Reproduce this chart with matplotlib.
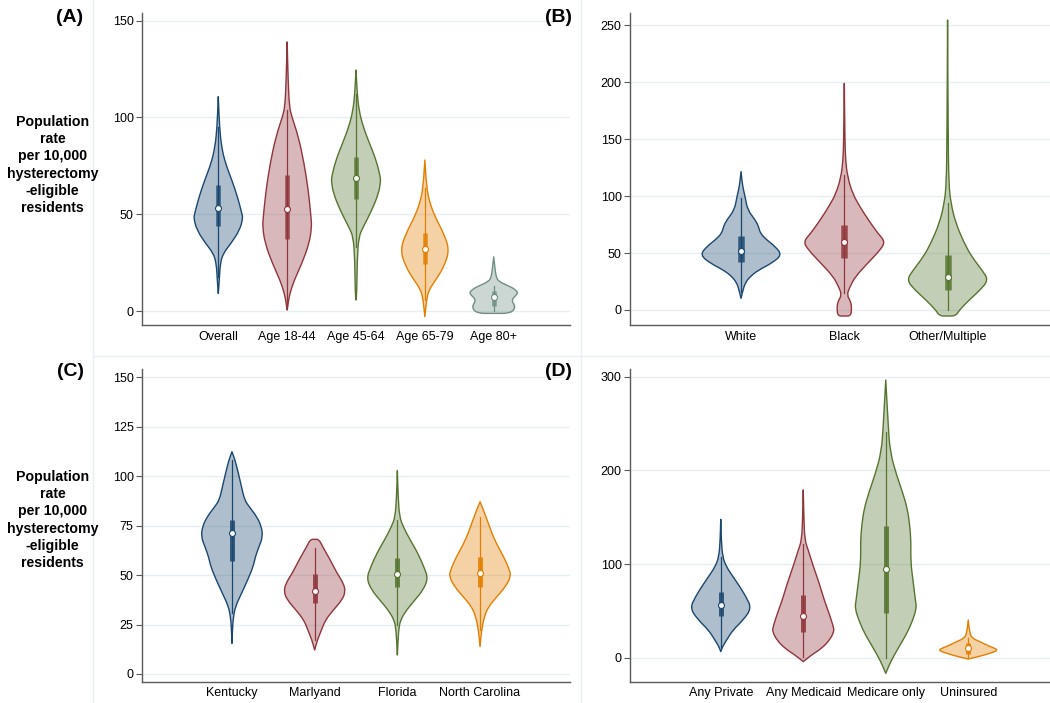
import matplotlib
matplotlib.use("Agg")
import matplotlib.pyplot as plt
from matplotlib.lines import Line2D
from matplotlib.path import Path
from matplotlib.patches import PathPatch
import numpy as np

plt.rcParams['font.family'] = ['Liberation Sans', 'DejaVu Sans']

# ---- (A) age groups ----
a_labels = ["Overall", "Age 18-44", "Age 45-64", "Age 65-79", "Age 80+"]
a_median = [53.0, 52.7, 68.9, 32.0, 7.4]
a_q1 = [44.1, 37.2, 57.7, 24.3, 2.6]
a_q3 = [65.1, 70.2, 79.7, 40.1, 10.5]
a_wlo = [17.7, 2.2, 33, 5.7, 0]
a_whi = [95, 103.8, 112, 63.4, 13]
# violin outline: (rate, relative half width)
a_shapes = [
    [(9.1, 0), (16, 0.04), (24.6, 0.08), (29.8, 0.2), (35, 0.52), (41.8, 0.87), (47.9, 1.0),
     (50.4, 0.96), (59.1, 0.78), (67.7, 0.55), (76.3, 0.29), (84.9, 0.13), (95.2, 0.05), (110.7, 0)],
    [(0.5, 0), (4, 0.04), (9.1, 0.11), (16, 0.29), (24.6, 0.6), (35, 0.9), (43.6, 1.0), (48.7, 0.97),
     (62.5, 0.86), (76.3, 0.69), (90, 0.46), (100.4, 0.19), (105.5, 0.09), (119.3, 0.04), (139, 0)],
    [(5.7, 0), (9.1, 0.03), (26.3, 0.05), (38.4, 0.11), (43.6, 0.3), (52.2, 0.65), (60.8, 0.92),
     (66.8, 1.0), (69.4, 0.99), (78, 0.82), (86.6, 0.55), (95.2, 0.29), (103.8, 0.12), (112.4, 0.05),
     (124.5, 0)],
    [(-2.9, 0), (5.7, 0.07), (10.8, 0.16), (16, 0.44), (22.9, 0.78), (31.5, 1.0), (40.1, 0.77),
     (47, 0.48), (55.6, 0.2), (64.2, 0.07), (78, 0)],
    [(-1.2, 0), (-1.2, 0.7), (2.2, 0.9), (5.7, 0.7), (9.1, 1.0), (10.8, 0.9), (12.5, 0.7),
     (15.2, 0.2), (17.7, 0.1), (21.2, 0.06), (28, 0)],
]

# ---- (B) race ----
b_labels = ["White", "Black", "Other/Multiple"]
b_median = [52.1, 59.4, 29.3]
b_q1 = [42.4, 45.4, 17.6]
b_q3 = [65.0, 74.6, 48.3]
b_wlo = [16, 14.6, 0]
b_whi = [98, 118.5, 93.7]
b_shapes = [
    [(10.2, 0), (17.6, 0.05), (23.4, 0.1), (29.3, 0.22), (35.1, 0.43), (41, 0.75), (48.3, 1.0),
     (55.6, 0.84), (61.5, 0.63), (67.3, 0.47), (73.2, 0.43), (79, 0.35), (87.8, 0.16), (99.5, 0.1),
     (108.3, 0.04), (121.5, 0)],
    [(-5.3, 0), (-5.3, 0.16), (1.5, 0.18), (7.3, 0.16), (13.2, 0.06), (20.5, 0.14), (29.3, 0.27),
     (41, 0.57), (52.7, 0.88), (60, 1.0), (67.3, 0.82), (79, 0.59), (90.7, 0.38), (102.4, 0.2),
     (117, 0.08), (131.7, 0.03), (150, 0.015), (199, 0)],
    [(-5.3, 0), (-5.3, 0.2), (0, 0.29), (8.8, 0.53), (17.6, 0.8), (26.3, 1.0), (35.1, 0.84),
     (46.8, 0.59), (58.5, 0.41), (76.1, 0.2), (93.7, 0.08), (111.2, 0.03), (150, 0.015), (254.6, 0)],
]

# ---- (C) state ----
c_labels = ["Kentucky", "Marlyand", "Florida", "North Carolina"]
c_median = [71.5, 42.1, 50.4, 51.2]
c_q1 = [57.1, 35.7, 43.8, 43.8]
c_q3 = [77.9, 50.4, 58.5, 59.3]
c_wlo = [30.7, 17.2, 24.8, 22]
c_whi = [108, 63.5, 78, 79.5]
c_shapes = [
    [(15.5, 0), (23.9, 0.02), (29, 0.05), (34, 0.11), (40.8, 0.31), (47.5, 0.51), (54.3, 0.69),
     (59.3, 0.76), (64.4, 0.88), (69.4, 1.0), (74.5, 0.96), (79.5, 0.81), (84.6, 0.56), (88, 0.41),
     (94.7, 0.31), (101.4, 0.21), (108.2, 0.1), (112.4, 0)],
    [(12.1, 0), (17.2, 0.09), (22.2, 0.22), (27.3, 0.35), (32.4, 0.61), (37.4, 0.89), (41.6, 1.0),
     (45.8, 0.94), (50.9, 0.73), (57.6, 0.51), (64.4, 0.26), (68.1, 0.14), (68.1, 0)],
    [(9.6, 0), (22.2, 0.04), (27.3, 0.1), (32.4, 0.3), (37.4, 0.57), (42.5, 0.84), (48.4, 1.0),
     (54.3, 0.86), (61, 0.67), (67.7, 0.42), (74.5, 0.19), (79.5, 0.07), (90, 0.025), (102.8, 0)],
    [(13.8, 0), (22.2, 0.05), (29, 0.14), (34, 0.27), (39.1, 0.55), (44.2, 0.83), (49.2, 1.0),
     (52.6, 0.96), (59.3, 0.77), (67.7, 0.47), (76.2, 0.27), (82.9, 0.11), (87.1, 0)],
]

# ---- (D) insurance ----
d_labels = ["Any Private", "Any Medicaid", "Medicare only", "Uninsured"]
d_median = [56.2, 45.1, 94.9, 10.3]
d_q1 = [45.1, 28.1, 48.3, 3.9]
d_q3 = [70.0, 67.2, 141.1, 15.6]
d_wlo = [12, 1.4, 0, 0]
d_whi = [108, 122, 241, 21]
d_shapes = [
    [(6.8, 0), (12.1, 0.06), (19.2, 0.19), (29.9, 0.4), (40.5, 0.73), (53, 1.0), (65.4, 0.82),
     (76, 0.62), (86.7, 0.4), (97.4, 0.18), (108, 0.06), (125, 0.02), (147.9, 0)],
    [(-3.9, 0), (3.2, 0.27), (10.3, 0.6), (19.2, 0.86), (28.1, 1.0), (33.4, 0.98), (47.6, 0.84),
     (61.9, 0.68), (79.6, 0.52), (97.4, 0.33), (115.2, 0.16), (125.8, 0.05), (150, 0.02), (179.2, 0)],
    [(-16.4, 0), (-3.9, 0.16), (10.3, 0.4), (24.5, 0.66), (38.7, 0.86), (53, 1.0), (60.1, 0.97),
     (81.4, 0.89), (102.7, 0.81), (124, 0.82), (141.8, 0.78), (159.6, 0.7), (177.4, 0.54),
     (195.2, 0.35), (220, 0.14), (248.5, 0.08), (296.5, 0)],
    [(-1.1, 0), (1.4, 0.33), (5, 0.71), (8.5, 1.0), (12.1, 0.71), (17.4, 0.38), (21, 0.13),
     (26.3, 0.05), (40.5, 0)],
]

colors = ['#1a476f', '#90353b', '#55752f', '#e37e00', '#6e8e84']
grid_col = '#e6eff1'
axis_col = '#5a5a5a'

W, H = 1050, 703
fig = plt.figure(figsize=(W / 100, H / 100), dpi=100)


def box(l, t, r, b):
    # pixel box -> figure fraction rect
    return [l / W, 1 - b / H, (r - l) / W, (b - t) / H]


def rounded_outline(xs, ys):
    # closed outline through the read points, corners rounded with quadratic curves
    pts = np.column_stack([xs, ys])
    verts = [pts[0], (pts[0] + pts[1]) / 2]
    codes = [Path.MOVETO, Path.LINETO]
    for k in range(1, len(pts) - 1):
        verts += [pts[k], (pts[k] + pts[k + 1]) / 2]
        codes += [Path.CURVE3, Path.CURVE3]
    verts += [pts[-1], pts[0]]
    codes += [Path.LINETO, Path.CLOSEPOLY]
    return Path(verts, codes)


def draw_panel(rect, labels, med, q1, q3, wlo, whi, shapes, hw, xlim, ylim, yticks, box_px):
    ax = fig.add_axes(rect)
    for i, lab in enumerate(labels):
        pos = i + 1
        col = colors[i]
        ys = np.array([p[0] for p in shapes[i]])
        ws = np.array([p[1] for p in shapes[i]]) * hw
        xs = np.concatenate([pos - ws, (pos + ws)[::-1]])
        yy = np.concatenate([ys, ys[::-1]])
        ax.add_patch(PathPatch(rounded_outline(xs, yy),
                               facecolor=matplotlib.colors.to_rgba(col, 0.35),
                               edgecolor=col, lw=1.0, joinstyle='round', zorder=2))
        ax.plot([pos, pos], [wlo[i], whi[i]], color=col, lw=0.9, zorder=3)
        ax.plot([pos, pos], [q1[i], q3[i]], color=col, lw=box_px * 0.72,
                solid_capstyle='butt', alpha=0.85, zorder=4)
        ax.plot(pos, med[i], 'o', ms=4.3, mfc='white', mec=col, mew=0.8, zorder=5)
    ax.set_xlim(*xlim)
    ax.set_ylim(*ylim)
    ax.set_yticks(yticks)
    ax.set_xticks(range(1, len(labels) + 1))
    ax.set_xticklabels(labels)
    for s in ['top', 'right']:
        ax.spines[s].set_visible(False)
    for s in ['left', 'bottom']:
        ax.spines[s].set_color(axis_col)
        ax.spines[s].set_linewidth(1.0)
    ax.tick_params(axis='y', length=4, color=axis_col, labelsize=9, pad=2)
    ax.tick_params(axis='x', length=0, labelsize=9, pad=4)
    ax.yaxis.grid(True, color=grid_col, lw=1.0)
    ax.set_axisbelow(True)
    return ax


draw_panel(box(142, 13.3, 570, 325), a_labels, a_median, a_q1, a_q3, a_wlo, a_whi, a_shapes,
           0.357, (-0.108, 6.108), (-7.2, 153.8), [0, 50, 100, 150], 4.5)
draw_panel(box(630, 13.3, 1058.6, 325), b_labels, b_median, b_q1, b_q3, b_wlo, b_whi, b_shapes,
           0.396, (-0.075, 4.075), (-13.2, 260.5), [0, 50, 100, 150, 200, 250], 6.5)
draw_panel(box(142, 369.3, 570, 681.7), c_labels, c_median, c_q1, c_q3, c_wlo, c_whi, c_shapes,
           0.372, (-0.088, 5.088), (-3.9, 154.1), [0, 25, 50, 75, 100, 125, 150], 5)
draw_panel(box(630, 369.3, 1059, 681.7), d_labels, d_median, d_q1, d_q3, d_wlo, d_whi, d_shapes,
           0.373, (-0.10, 5.10), (-25.3, 307.9), [0, 100, 200, 300], 5)

# faint borders between the sub-graphs
fig.add_artist(Line2D([93 / W, 93 / W], [0, 1], color=grid_col, lw=1))
fig.add_artist(Line2D([581 / W, 581 / W], [0, 1], color=grid_col, lw=1))
fig.add_artist(Line2D([93 / W, 1], [1 - 356 / H, 1 - 356 / H], color=grid_col, lw=1))

for txt, x, y in [("(A)", 70, 18), ("(B)", 558, 17), ("(C)", 70, 372), ("(D)", 558, 372)]:
    fig.text(x / W, 1 - y / H, txt, ha='center', va='center', fontsize=14, weight='bold')

ylab = "Population\nrate\nper 10,000\nhysterectomy\n-eligible\nresidents"
for y in [165, 520]:
    fig.text(52.5 / W, 1 - y / H, ylab, ha='center', va='center', fontsize=10.2,
             weight='bold', linespacing=1.3)

fig.savefig("out.png", dpi=100, facecolor='white')
